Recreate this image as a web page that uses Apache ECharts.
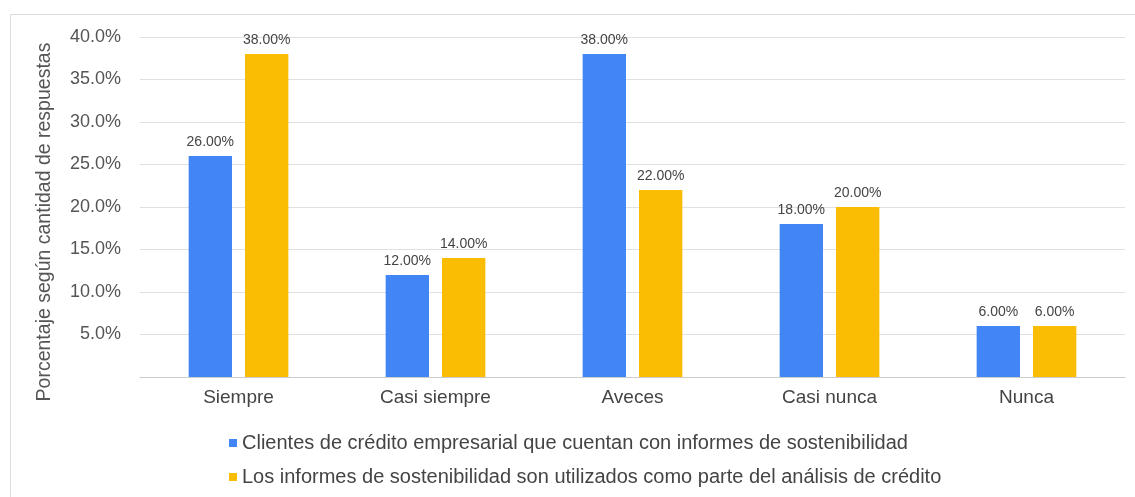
<!DOCTYPE html>
<html>
<head>
<meta charset="utf-8">
<script src="https://cdn.jsdelivr.net/npm/echarts@6/dist/echarts.min.js"></script>
<style>
  html, body { margin: 0; padding: 0; background: #fff; }
  #main { width: 1135px; height: 497px; }
</style>
</head>
<body>
<div id="main"></div>
<script>
// categorias y valores (porcentaje)
var categories = ['Siempre', 'Casi siempre', 'Aveces', 'Casi nunca', 'Nunca']
var seriesNames = [
  'Clientes de crédito empresarial que cuentan con informes de sostenibilidad',
  'Los informes de sostenibilidad son utilizados como parte del análisis de crédito'
]
var clientesValues = [26, 12, 38, 18, 6]
var informesValues = [38, 14, 22, 20, 6]
var yAxisTitle = 'Porcentaje según cantidad de respuestas'
var colors = ['#4285F4', '#FBBC04']

var myChart = echarts.init(document.getElementById('main'))
var fontFamily = 'Arial, "Liberation Sans", sans-serif'

var option = {
  animation: false,
  textStyle: { fontFamily: fontFamily },
  graphic: [
    {
      type: 'rect',
      shape: { x: 10.5, y: 14.5, width: 1200, height: 600 },
      style: { fill: 'none', stroke: '#dddddd', lineWidth: 1 },
      silent: true
    },
    // titulo del eje Y
    {
      type: 'text',
      x: 45,
      y: 222,
      rotation: Math.PI / 2,
      style: {
        text: yAxisTitle,
        fontSize: 19.5,
        fontFamily: fontFamily,
        fill: '#555',
        align: 'center',
        verticalAlign: 'middle'
      },
      silent: true
    }
  ],
  grid: {
    left: 140,
    right: 10,
    top: 37,
    bottom: 120
  },
  legend: {
    orient: 'vertical',
    left: 224,
    top: 428,
    itemWidth: 8,
    itemHeight: 8,
    itemGap: 14,
    icon: 'rect',
    data: seriesNames,
    textStyle: { fontSize: 20, color: '#444', fontFamily: fontFamily }
  },
  xAxis: {
    type: 'category',
    data: categories,
    axisTick: { show: false },
    axisLine: { lineStyle: { color: '#cccccc' } },
    axisLabel: { fontSize: 19, color: '#444', margin: 11 }
  },
  yAxis: {
    type: 'value',
    min: 0,
    max: 40,
    interval: 5,
    axisLine: { show: false },
    axisTick: { show: false },
    splitLine: { lineStyle: { color: '#e0e0e0', width: 1 } },
    axisLabel: {
      fontSize: 18,
      color: '#555',
      margin: 19,
      formatter: function (v) {
        if (v === 0) return ''
        return v.toFixed(1) + '%'
      }
    }
  },
  series: [
    {
      name: seriesNames[0],
      type: 'bar',
      data: clientesValues,
      barWidth: '22%',
      barGap: '30%',
      itemStyle: { color: colors[0] },
      label: {
        show: true,
        position: 'top',
        distance: 7,
        fontSize: 14,
        color: '#444',
        formatter: function (p) { return p.value.toFixed(2) + '%' }
      }
    },
    {
      name: seriesNames[1],
      type: 'bar',
      data: informesValues,
      barWidth: '22%',
      barGap: '30%',
      itemStyle: { color: colors[1] },
      label: {
        show: true,
        position: 'top',
        distance: 7,
        fontSize: 14,
        color: '#444',
        formatter: function (p) { return p.value.toFixed(2) + '%' }
      }
    }
  ]
}
myChart.setOption(option)
</script>
</body>
</html>
